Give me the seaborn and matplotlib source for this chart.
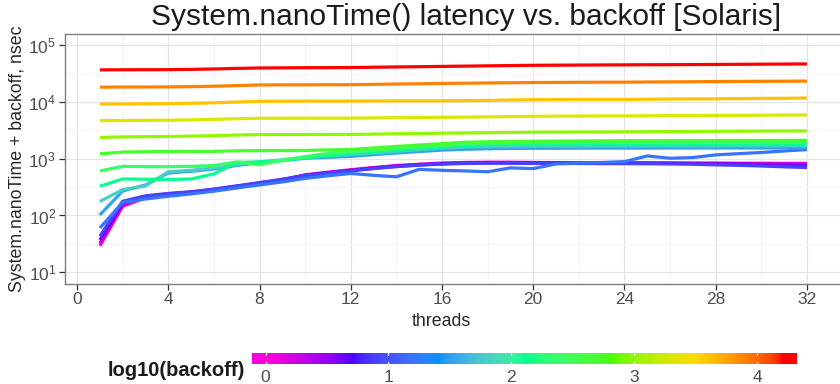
import numpy as np
import pandas as pd
import seaborn as sns
import matplotlib.pyplot as plt
from matplotlib.colors import ListedColormap, Normalize
from matplotlib.ticker import FixedLocator

sns.set_style('white')
plt.rcParams['font.family'] = ['Liberation Sans', 'DejaVu Sans']
plt.rcParams['mathtext.fontset'] = 'custom'
plt.rcParams['mathtext.rm'] = 'Liberation Sans'
plt.rcParams['mathtext.it'] = 'Liberation Sans:italic'

# data (nsec per thread count, one list per backoff)
threads = list(range(1, 33))
backoffs = [1, 2, 4, 8, 16, 32, 64, 128, 256, 512, 1024, 2048, 4096, 8192, 16384]

nsec_b1 = [29, 145, 205, 230, 252, 282, 320, 365, 420, 520, 580, 640, 700, 760, 800, 840,
           860, 870, 870, 860, 855, 850, 850, 850, 845, 845, 840, 840, 835, 835, 830, 830]
nsec_b2 = [32, 155, 210, 235, 255, 285, 325, 370, 425, 515, 570, 630, 690, 745, 790, 825,
           845, 855, 855, 850, 850, 845, 845, 840, 840, 835, 830, 825, 820, 815, 810, 800]
nsec_b4 = [37, 165, 215, 240, 258, 288, 328, 375, 430, 510, 565, 620, 680, 735, 780, 815,
           835, 845, 845, 840, 840, 835, 835, 830, 830, 825, 820, 810, 800, 790, 780, 770]
nsec_b8 = [43, 178, 222, 245, 262, 292, 332, 380, 435, 505, 560, 610, 670, 725, 770, 805,
           825, 835, 835, 830, 825, 825, 820, 820, 815, 810, 800, 780, 765, 745, 720, 700]
nsec_b16 = [60, 170, 195, 218, 240, 268, 305, 345, 390, 450, 500, 550, 510, 480, 650, 625,
            610, 590, 690, 670, 810, 840, 860, 890, 1120, 1020, 1050, 1170, 1230, 1290, 1370, 1450]
nsec_b32 = [102, 270, 345, 560, 600, 660, 760, 850, 930, 1020, 1060, 1100, 1180, 1260, 1340, 1420,
            1470, 1500, 1520, 1530, 1530, 1540, 1540, 1540, 1540, 1550, 1550, 1550, 1550, 1550, 1550, 1550]
nsec_b64 = [176, 286, 330, 590, 625, 690, 790, 880, 960, 1060, 1120, 1180, 1260, 1350, 1440, 1530,
            1600, 1640, 1660, 1670, 1670, 1670, 1680, 1680, 1680, 1680, 1680, 1680, 1690, 1690, 1690, 1690]
nsec_b128 = [327, 440, 435, 430, 440, 540, 860, 880, 930, 1040, 1140, 1250, 1340, 1430, 1530, 1630,
             1720, 1770, 1790, 1800, 1800, 1810, 1810, 1810, 1810, 1820, 1820, 1820, 1820, 1820, 1820, 1820]
nsec_b256 = [610, 735, 725, 725, 735, 760, 880, 785, 940, 1090, 1250, 1330, 1420, 1520, 1620, 1720,
             1820, 1880, 1900, 1920, 1930, 1930, 1940, 1940, 1940, 1950, 1950, 1950, 1950, 1960, 1960, 1960]
nsec_b512 = [1225, 1310, 1330, 1340, 1345, 1350, 1380, 1390, 1395, 1400, 1430, 1460, 1550, 1650, 1750, 1850,
             1950, 2000, 2020, 2040, 2050, 2060, 2070, 2080, 2080, 2090, 2090, 2100, 2100, 2100, 2110, 2120]
nsec_b1024 = [2370, 2430, 2450, 2470, 2500, 2550, 2620, 2670, 2670, 2670, 2680, 2680, 2720, 2760, 2790, 2820,
              2850, 2880, 2910, 2940, 2950, 2960, 2970, 2980, 3000, 3020, 3030, 3050, 3060, 3080, 3090, 3100]
nsec_b2048 = [4700, 4720, 4750, 4780, 4850, 4950, 5080, 5180, 5180, 5190, 5200, 5200, 5250, 5300, 5340, 5380,
              5430, 5480, 5540, 5600, 5630, 5660, 5680, 5690, 5720, 5750, 5780, 5800, 5830, 5860, 5890, 5920]
nsec_b4096 = [9200, 9250, 9300, 9350, 9500, 9700, 10000, 10300, 10350, 10400, 10400, 10400, 10450, 10500, 10500, 10500,
              10600, 10700, 10850, 11000, 11050, 11100, 11100, 11100, 11200, 11300, 11350, 11400, 11500, 11600, 11650, 11750]
nsec_b8192 = [18300, 18400, 18400, 18500, 18700, 19000, 19500, 20000, 20100, 20100, 20200, 20200, 20500, 20800, 21000, 21300,
              21500, 21700, 21900, 22100, 22200, 22300, 22400, 22400, 22600, 22700, 22800, 23000, 23100, 23200, 23300, 23400]
nsec_b16384 = [36900, 37100, 37200, 37300, 37700, 38300, 39200, 39900, 40100, 40300, 40400, 40600, 41100, 41600, 42000, 42500,
               43000, 43500, 44000, 44500, 44700, 44900, 45100, 45300, 45500, 45600, 45800, 46000, 46300, 46500, 46800, 47000]

series = [nsec_b1, nsec_b2, nsec_b4, nsec_b8, nsec_b16, nsec_b32, nsec_b64, nsec_b128,
          nsec_b256, nsec_b512, nsec_b1024, nsec_b2048, nsec_b4096, nsec_b8192, nsec_b16384]

cbar_ticks = [0, 1, 2, 3, 4]
x_ticks = [0, 4, 8, 12, 16, 20, 24, 28, 32]
y_ticks = [1e1, 1e2, 1e3, 1e4, 1e5]

# rev(rainbow(7)) interpolated in CIELAB like ggplot's gradientn
anchors = ['#FF00DB', '#4900FF', '#0092FF', '#00FF92', '#49FF00', '#FFDB00', '#FF0000']
M = np.array([[0.4124, 0.3576, 0.1805], [0.2126, 0.7152, 0.0722], [0.0193, 0.1192, 0.9505]])
WHITE = np.array([0.95047, 1.0, 1.08883])


def to_lab(hexes):
    rgb = np.array([[int(h[i:i + 2], 16) / 255 for i in (1, 3, 5)] for h in hexes])
    lin = np.where(rgb <= 0.04045, rgb / 12.92, ((rgb + 0.055) / 1.055) ** 2.4)
    xyz = lin @ M.T / WHITE
    f = np.where(xyz > 0.008856, np.cbrt(xyz), 7.787 * xyz + 16 / 116)
    return np.stack([116 * f[:, 1] - 16, 500 * (f[:, 0] - f[:, 1]), 200 * (f[:, 1] - f[:, 2])], axis=1)


def from_lab(lab):
    fy = (lab[:, 0] + 16) / 116
    f = np.stack([fy + lab[:, 1] / 500, fy, fy - lab[:, 2] / 200], axis=1)
    xyz = np.where(f ** 3 > 0.008856, f ** 3, (f - 16 / 116) / 7.787) * WHITE
    lin = xyz @ np.linalg.inv(M).T
    lin = np.clip(lin, 0, 1)
    rgb = np.where(lin <= 0.0031308, 12.92 * lin, 1.055 * lin ** (1 / 2.4) - 0.055)
    return np.clip(rgb, 0, 1)


lab = to_lab(anchors)
pos = np.linspace(0, 1, len(anchors))
grid = np.linspace(0, 1, 256)
lab_grid = np.stack([np.interp(grid, pos, lab[:, k]) for k in range(3)], axis=1)
cmap = ListedColormap(from_lab(lab_grid))

rows = []
for b, vals in zip(backoffs, series):
    for t, v in zip(threads, vals):
        rows.append({'threads': t, 'nsec': v, 'backoff': b})
df = pd.DataFrame(rows)
df['log10(backoff)'] = np.log10(df['backoff'])
vmax = np.log10(max(backoffs))

fig = plt.figure(figsize=(8.4, 3.84), dpi=100)
ax = fig.add_axes([64.5 / 840, 1 - 283.5 / 384, 777.8 / 840, 249.5 / 384])
sns.lineplot(data=df, x='threads', y='nsec', hue='log10(backoff)', palette=cmap,
             hue_norm=(0, vmax), legend=False, lw=2.3, errorbar=None,
             solid_capstyle='butt', ax=ax)

ax.set_yscale('log')
ax.set_xlim(-0.55, 33.55)
ax.set_ylim(10 ** 0.8, 10 ** 5.2)
ax.set_xticks(x_ticks)
ax.set_xticklabels([str(t) for t in x_ticks])
ax.set_yticks(y_ticks)
ax.set_yticklabels([r'$10^{%d}$' % int(np.log10(v)) for v in y_ticks])
ax.xaxis.set_minor_locator(FixedLocator([2, 6, 10, 14, 18, 22, 26, 30]))
ax.yaxis.set_minor_locator(FixedLocator([10 ** 1.5, 10 ** 2.5, 10 ** 3.5, 10 ** 4.5]))
ax.grid(which='major', color='#e4e4e4', lw=0.9)
ax.grid(which='minor', color='#f4f4f4', lw=0.8)
ax.set_axisbelow(True)
ax.tick_params(which='major', length=4, width=0.9, color='#333333',
               labelsize=12.5, labelcolor='#4d4d4d', pad=2, bottom=True, left=True)
ax.tick_params(which='minor', length=0)
for s in ax.spines.values():
    s.set_color('#7f7f7f')
    s.set_linewidth(1.0)
ax.set_xlabel('')
ax.set_ylabel('')

fig.text(466 / 840, 1 - 17 / 384, 'System.nanoTime() latency vs. backoff [Solaris]',
         ha='center', va='center', fontsize=21.5, color='#1a1a1a')
fig.text(441 / 840, 1 - 321 / 384, 'threads', ha='center', va='center', fontsize=12.8)
fig.text(18 / 840, 1 - 159 / 384, 'System.nanoTime + backoff, nsec', rotation=90,
         ha='center', va='center', fontsize=12.8)

# horizontal colour bar at the bottom
lo, hi = -vmax / 38, vmax + vmax / 38
cax = fig.add_axes([252 / 840, 1 - 364.5 / 384, 545 / 840, 12 / 384])
cax.imshow(np.linspace(lo, hi, 400)[None, :], cmap=cmap, norm=Normalize(0, vmax),
           extent=[lo, hi, 0, 1], aspect='auto')
for v in cbar_ticks:
    cax.plot([v, v], [0, 0.2], color='white', lw=0.9)
    cax.plot([v, v], [0.8, 1], color='white', lw=0.9)
    cax.text(v, -0.5, str(v), ha='center', va='top', fontsize=12.5, color='#4d4d4d', clip_on=False)
cax.set_xlim(lo, hi)
cax.set_ylim(0, 1)
cax.axis('off')
fig.text(245 / 840, 1 - 370 / 384, 'log10(backoff)', ha='right', va='center',
         fontsize=14.5, fontweight='bold', color='#1a1a1a')

fig.savefig('out.png', dpi=100)
